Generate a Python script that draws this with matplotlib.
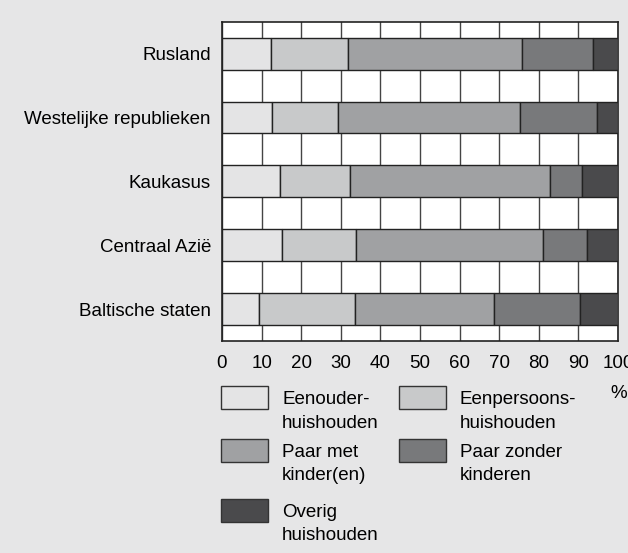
import numpy as np
import matplotlib
matplotlib.use("Agg")
import matplotlib.pyplot as plt
from matplotlib.patches import Rectangle

plt.rcParams['font.family'] = ['Liberation Sans', 'DejaVu Sans']

regions = ['Rusland', 'Westelijke republieken', 'Kaukasus', 'Centraal Azië',
           'Baltische staten']
series = ['Eenouder-\nhuishouden', 'Eenpersoons-\nhuishouden',
          'Paar met\nkinder(en)', 'Paar zonder\nkinderen', 'Overig\nhuishouden']
eenouder = [12.3, 12.7, 14.6, 15.1, 9.4]
eenpersoons = [19.6, 16.7, 17.8, 18.7, 24.2]
paar_met = [43.9, 45.8, 50.3, 47.2, 35.0]
paar_zonder = [18.0, 19.4, 8.3, 11.1, 21.8]
overig = [6.2, 5.4, 9.0, 7.9, 9.6]
colours = ['#e4e4e5', '#c8c9ca', '#a0a1a3', '#78797b', '#4a4a4c']
bg = '#e6e6e7'
fs = 13.5

fig = plt.figure(figsize=(6.28, 5.53), dpi=100, facecolor=bg)
ax = fig.add_axes([0.3535, 0.3834, 0.6306, 0.5774])

y = np.arange(len(regions))
left = np.zeros(len(regions))
for vals, col in zip([eenouder, eenpersoons, paar_met, paar_zonder, overig], colours):
    ax.barh(y, vals, left=left, height=0.5, color=col, edgecolor='#222222',
            linewidth=1, zorder=3)
    left += np.array(vals)

ax.set_xlim(0, 100)
ax.set_ylim(len(regions) - 0.5, -0.5)
ax.set_xticks(np.arange(0, 101, 10))
ax.set_yticks(y)
ax.set_yticklabels(regions)
ax.tick_params(length=0, labelsize=fs, colors='black')
ax.tick_params(axis='y', pad=8)
ax.tick_params(axis='x', pad=10)
ax.grid(axis='x', color='#444444', linewidth=1, zorder=0)
ax.set_axisbelow(True)
for s in ax.spines.values():
    s.set_color('#222222')
    s.set_linewidth(1.2)

fig.text(0.985, 0.289, '%', fontsize=fs, ha='center', va='center')

# legend laid out by hand
W, H = 628, 553
slots = [(221, 386), (399, 386), (221, 439), (399, 439), (221, 499)]
for (px, py), col, lab in zip(slots, colours, series):
    fig.patches.append(Rectangle((px / W, 1 - (py + 23) / H), 47 / W, 23 / H,
                                 transform=fig.transFigure, facecolor=col,
                                 edgecolor='#333333', linewidth=1))
    fig.text((px + 61) / W, 1 - (py + 5) / H, lab, fontsize=fs, va='top',
             ha='left', linespacing=1.5)

fig.savefig('out.png', dpi=100, facecolor=bg)
